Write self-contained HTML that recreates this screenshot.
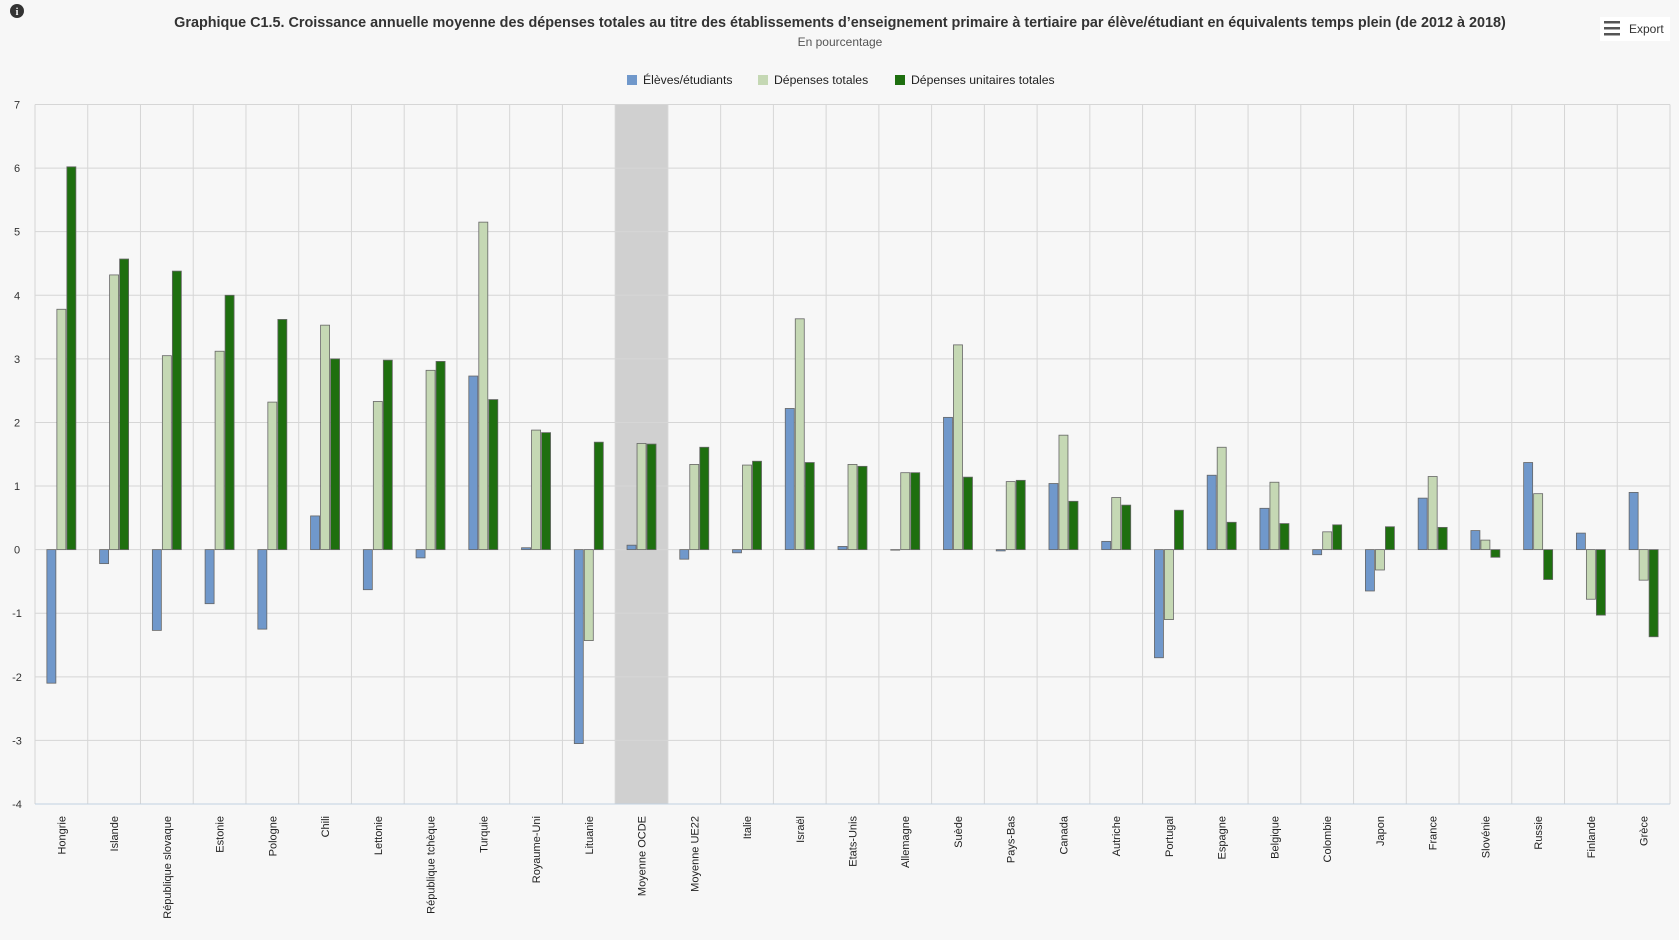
<!DOCTYPE html>
<html><head><meta charset="utf-8"><style>
body{margin:0;background:#f7f7f7;font-family:"Liberation Sans",sans-serif;}
svg{display:block}
</style></head><body>
<svg id="chart" width="1679" height="940">
<rect width="1679" height="940" fill="#f7f7f7"/>
<g><circle cx="17" cy="11" r="7" fill="#333"/><text x="17" y="15" font-size="10" font-weight="bold" fill="#fff" text-anchor="middle" font-family="Liberation Serif, serif">i</text></g>
<text x="840" y="27" text-anchor="middle" font-size="14.4" font-weight="bold" fill="#333">Graphique C1.5. Croissance annuelle moyenne des dépenses totales au titre des établissements d’enseignement primaire à tertiaire par élève/étudiant en équivalents temps plein (de 2012 à 2018)</text>
<text x="840" y="46" text-anchor="middle" font-size="12" fill="#555">En pourcentage</text>
<g><rect x="1600" y="17" width="70" height="24" fill="#fff"/><rect x="1604" y="21" width="16" height="2.5" fill="#555"/><rect x="1604" y="27" width="16" height="2.5" fill="#555"/><rect x="1604" y="33" width="16" height="2.5" fill="#555"/><text x="1629" y="33" font-size="12" fill="#333">Export</text></g>
<g id="legend"></g>
<g id="plot"></g>
</svg>
<script>
const categories=["Hongrie","Islande","République slovaque","Estonie","Pologne","Chili","Lettonie","République tchèque","Turquie","Royaume-Uni","Lituanie","Moyenne OCDE","Moyenne UE22","Italie","Israël","Etats-Unis","Allemagne","Suède","Pays-Bas","Canada","Autriche","Portugal","Espagne","Belgique","Colombie","Japon","France","Slovénie","Russie","Finlande","Grèce"];
const eleves=[-2.1,-0.22,-1.27,-0.85,-1.25,0.53,-0.63,-0.13,2.73,0.03,-3.05,0.07,-0.15,-0.05,2.22,0.05,0,2.08,-0.02,1.04,0.13,-1.7,1.17,0.65,-0.08,-0.65,0.81,0.3,1.37,0.26,0.9];
const depenses=[3.78,4.32,3.05,3.12,2.32,3.53,2.33,2.82,5.15,1.88,-1.43,1.67,1.34,1.33,3.63,1.34,1.21,3.22,1.07,1.8,0.82,-1.1,1.61,1.06,0.28,-0.32,1.15,0.15,0.88,-0.78,-0.48];
const unitaires=[6.02,4.57,4.38,4.0,3.62,3.0,2.98,2.96,2.36,1.84,1.69,1.66,1.61,1.39,1.37,1.31,1.21,1.14,1.09,0.76,0.7,0.62,0.43,0.41,0.39,0.36,0.35,-0.12,-0.47,-1.03,-1.37];
const yTicks=[7,6,5,4,3,2,1,0,-1,-2,-3,-4];
const seriesNames=["Élèves/étudiants","Dépenses totales","Dépenses unitaires totales"];
const highlighted=["Moyenne OCDE"];
const colors=["#7098cb","#c5d8b4","#1e6f0f"];
const NS="http://www.w3.org/2000/svg";
const L=35,R=1670,T=104.5,B=804,yMax=7,yMin=-4;
const bw=(R-L)/categories.length;
const y=v=>T+(yMax-v)*(B-T)/(yMax-yMin);
const x=i=>L+i*bw;
function mk(tag,attrs,parent){const e=document.createElementNS(NS,tag);for(const k in attrs)e.setAttribute(k,attrs[k]);parent.appendChild(e);return e;}
const plot=document.getElementById('plot');
categories.forEach((c,i)=>{if(highlighted.includes(c)){const r=mk('rect',{x:x(i),y:T,width:bw,height:B-T,fill:'#d0d0d0'},plot);

}});
yTicks.forEach(t=>{const l=mk('line',{x1:L,x2:R,y1:y(t),y2:y(t),stroke:'#d6d6d6','stroke-width':1},plot);


const tx=mk('text',{x:17,y:y(t)+4,'text-anchor':'middle','font-size':11,fill:'#333'},plot);tx.textContent=t;

});
for(let i=0;i<=categories.length;i++){const l=mk('line',{x1:x(i),x2:x(i),y1:T,y2:B,stroke:'#d6d6d6'},plot);

}
mk('line',{x1:L,x2:R,y1:B,y2:B,stroke:'#c0d0e0'},plot);
const series=[eleves,depenses,unitaires];
const w=9,gap=1;
categories.forEach((c,i)=>{const cx=x(i)+bw/2;const start=cx-(3*w+2*gap)/2;
series.forEach((s,k)=>{const v=s[i];const y0=y(0),y1=y(v);
const r=mk('rect',{x:start+k*(w+gap),y:Math.min(y0,y1),width:w,height:Math.max(Math.abs(y1-y0),0.5),fill:colors[k],stroke:'#666','stroke-width':0.8},plot);

});
const t=mk('text',{transform:`translate(${cx+4},816) rotate(-90)`,'text-anchor':'end','font-size':11,fill:'#222'},plot);t.textContent=c;

});
const lg=document.getElementById('legend');
const lx=[627,758,895];
seriesNames.forEach((n,k)=>{const g=mk('g',{},lg);


mk('rect',{x:lx[k],y:75,width:10,height:10,fill:colors[k]},g);
const t=mk('text',{x:lx[k]+16,y:84,'font-size':12.2,fill:'#222'},g);t.textContent=n;});
</script>
</body></html>
